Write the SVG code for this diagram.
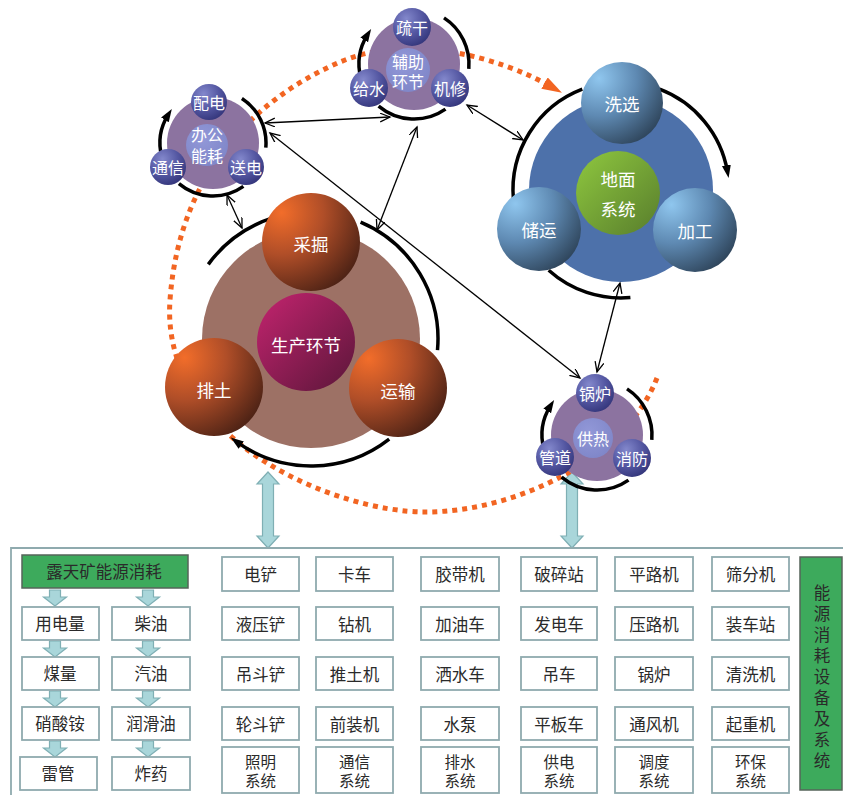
<svg xmlns="http://www.w3.org/2000/svg" width="843" height="795" viewBox="0 0 843 795">
  <style>
    .arc { fill: none; stroke: #000; stroke-width: 3.5; }
    .arc-head { marker-end: url(#arcHead); }
    .link { fill: none; stroke: #000; stroke-width: 1.3; marker-start: url(#openHead); marker-end: url(#openHead); }
    .ball-t { fill: #fff; font-family: "Noto Sans CJK SC", "Noto Sans", sans-serif; font-size: 16px; text-anchor: middle; dominant-baseline: central; }
    .big-t { font-size: 17.5px; }
    .box { fill: #fff; stroke: #8FAAAE; stroke-width: 1.8; }
    .box-t { fill: #2a2a2a; font-family: "Noto Sans CJK SC", "Noto Sans", sans-serif; font-size: 16.5px; text-anchor: middle; dominant-baseline: central; }
    .sys-t { font-size: 15.5px; }
    .green { fill: #3DAA5C; stroke: #56645A; stroke-width: 1.5; }
    .teal { fill: #A9D6DA; stroke: #7FAFB4; stroke-width: 1.2; }
  </style>
  <defs>
    <radialGradient id="gPurpleBall" cx="35%" cy="28%" r="78%">
      <stop offset="0" stop-color="#8388CC"/>
      <stop offset="0.55" stop-color="#5457A2"/>
      <stop offset="1" stop-color="#33357A"/>
    </radialGradient>
    <radialGradient id="gInner" cx="40%" cy="35%" r="70%">
      <stop offset="0" stop-color="#9298D8"/>
      <stop offset="1" stop-color="#7F86C8"/>
    </radialGradient>
    <radialGradient id="gBlueBall" cx="22%" cy="20%" r="92%">
      <stop offset="0" stop-color="#8FC6EE"/>
      <stop offset="0.5" stop-color="#5E89B2"/>
      <stop offset="1" stop-color="#2E445A"/>
    </radialGradient>
    <radialGradient id="gOrangeBall" cx="20%" cy="20%" r="95%">
      <stop offset="0" stop-color="#F26D2A"/>
      <stop offset="0.45" stop-color="#B04E28"/>
      <stop offset="1" stop-color="#482014"/>
    </radialGradient>
    <linearGradient id="gGreen" x1="0" y1="0" x2="1" y2="1">
      <stop offset="0" stop-color="#8FC83F"/>
      <stop offset="1" stop-color="#587D2C"/>
    </linearGradient>
    <linearGradient id="gMagenta" x1="0" y1="0" x2="1" y2="1">
      <stop offset="0" stop-color="#C4246F"/>
      <stop offset="1" stop-color="#5A1639"/>
    </linearGradient>
    <marker id="openHead" markerUnits="userSpaceOnUse" markerWidth="12" markerHeight="10" refX="10" refY="4.5" orient="auto-start-reverse">
      <path d="M0,0 L10,4.5 L0,9" fill="none" stroke="#000" stroke-width="1.3"/>
    </marker>
    <marker id="arcHead" markerUnits="userSpaceOnUse" markerWidth="14" markerHeight="10" refX="6" refY="4.5" orient="auto">
      <path d="M0,0 L13,4.5 L0,9 z" fill="#000"/>
    </marker>
    <marker id="orangeHead" markerUnits="userSpaceOnUse" markerWidth="22" markerHeight="14" refX="4" refY="6.5" orient="auto">
      <path d="M0,0 L20,6.5 L0,13 z" fill="#F26522"/>
    </marker>
  </defs>

  <rect width="843" height="795" fill="#fff"/>

  <!-- wide two-way arrows linking the circles with the table -->
  <g id="table-links">
    <polygon class="teal" points="268,472 279,484 273.5,484 273.5,536 279,536 268,548 257,536 262.5,536 262.5,484 257,484"/>
    <polygon class="teal" points="572,472 583,484 577.5,484 577.5,536 583,536 572,548 561,536 566.5,536 566.5,484 561,484"/>
  </g>

  <!-- dotted orange cycle around the clusters -->
  <path id="cycle" d="M657,378 C625,460 515,512 425,512 C335,512 160,440 170,300 C180,160 270,92 340,62 C410,32 500,58 548,85" fill="none" stroke="#F26522" stroke-width="5" stroke-dasharray="5 5" marker-end="url(#orangeHead)"/>

  <!-- office energy cluster -->
  <g id="office">
    <path class="arc arc-head" d="M161.8,156.7 A53,53 0 0 1 168.1,114.9"/>
    <path class="arc" d="M241.9,98.5 A53,53 0 0 1 265.8,147.6"/>
    <path class="arc" d="M243.4,186.4 A53,53 0 0 1 178.9,183.6"/>
    <circle cx="213" cy="143" r="46" fill="#8C73A0"/>
    <g id="office-center"><circle cx="207" cy="145" r="21" fill="url(#gInner)"/>
      <text class="ball-t" x="207" y="134">办公<tspan x="207" dy="21">能耗</tspan></text></g>
    <g id="office-peidian"><circle cx="209" cy="102" r="18" fill="url(#gPurpleBall)"/><text class="ball-t" x="209" y="102">配电</text></g>
    <g id="office-tongxin"><circle cx="168" cy="167" r="18" fill="url(#gPurpleBall)"/><text class="ball-t" x="168" y="167">通信</text></g>
    <g id="office-songdian"><circle cx="246" cy="167" r="18" fill="url(#gPurpleBall)"/><text class="ball-t" x="246" y="167">送电</text></g>
  </g>

  <!-- auxiliary cluster -->
  <g id="auxiliary">
    <path class="arc arc-head" d="M360.9,78.2 A55,55 0 0 1 367.4,34.9"/>
    <path class="arc" d="M444,17.9 A55,55 0 0 1 468.8,68.8"/>
    <path class="arc" d="M445.5,109.1 A55,55 0 0 1 378.6,106.1"/>
    <circle cx="414" cy="64" r="46" fill="#8C73A0"/>
    <g id="aux-center"><circle cx="408" cy="70" r="22" fill="url(#gInner)"/>
      <text class="ball-t" x="408" y="61">辅助<tspan x="408" dy="20">环节</tspan></text></g>
    <g id="aux-shugan"><circle cx="412" cy="27" r="19" fill="url(#gPurpleBall)"/><text class="ball-t" x="412" y="27">疏干</text></g>
    <g id="aux-geishui"><circle cx="369" cy="88" r="19" fill="url(#gPurpleBall)"/><text class="ball-t" x="369" y="88">给水</text></g>
    <g id="aux-jixiu"><circle cx="450" cy="88" r="19" fill="url(#gPurpleBall)"/><text class="ball-t" x="450" y="88">机修</text></g>
  </g>

  <!-- surface system cluster -->
  <g id="surface">
    <path class="arc" d="M582.3,89.2 A108,108 0 0 0 513.4,199.4"/>
    <path class="arc arc-head" d="M659.7,89.2 A108,108 0 0 1 727.4,171.2"/>
    <path class="arc" d="M548.7,270.3 A108,108 0 0 0 630.4,297.6"/>
    <circle cx="621" cy="190" r="92" fill="#4D71AA"/>
    <g id="surface-center"><circle cx="618" cy="193" r="42" fill="url(#gGreen)"/>
      <text class="ball-t big-t" x="618" y="178">地面<tspan x="618" dy="30">系统</tspan></text></g>
    <g id="surface-xixuan"><circle cx="622" cy="103" r="41" fill="url(#gBlueBall)"/><text class="ball-t big-t" x="622" y="103">洗选</text></g>
    <g id="surface-chuyun"><circle cx="539" cy="229" r="42" fill="url(#gBlueBall)"/><text class="ball-t big-t" x="539" y="229">储运</text></g>
    <g id="surface-jiagong"><circle cx="695" cy="230" r="42" fill="url(#gBlueBall)"/><text class="ball-t big-t" x="695" y="230">加工</text></g>
  </g>

  <!-- production cluster -->
  <g id="production">
    <path class="arc" d="M208.3,264.4 A127,127 0 0 1 271.8,218.2"/>
    <path class="arc" d="M360.6,222.1 A127,127 0 0 1 437.5,350.1"/>
    <path class="arc arc-head" d="M389.2,439.1 A127,127 0 0 1 236.4,441.7"/>
    <circle cx="311" cy="339" r="109" fill="#9D7165"/>
    <g id="prod-center"><circle cx="306" cy="342" r="49" fill="url(#gMagenta)"/><text class="ball-t big-t" x="306" y="344">生产环节</text></g>
    <g id="prod-caijue"><circle cx="311" cy="242" r="49" fill="url(#gOrangeBall)"/><text class="ball-t big-t" x="311" y="243">采掘</text></g>
    <g id="prod-paitu"><circle cx="214" cy="387" r="49" fill="url(#gOrangeBall)"/><text class="ball-t big-t" x="214" y="389">排土</text></g>
    <g id="prod-yunshu"><circle cx="398" cy="388" r="49" fill="url(#gOrangeBall)"/><text class="ball-t big-t" x="398" y="390">运输</text></g>
  </g>

  <!-- heating cluster -->
  <g id="heating">
    <path class="arc arc-head" d="M543.9,449.2 A55,55 0 0 1 550.4,405.9"/>
    <path class="arc" d="M627,388.9 A55,55 0 0 1 651.8,439.8"/>
    <path class="arc" d="M628.5,480.1 A55,55 0 0 1 561.6,477.1"/>
    <circle cx="597" cy="435" r="46" fill="#8C73A0"/>
    <g id="heat-center"><circle cx="593" cy="438" r="20" fill="url(#gInner)"/><text class="ball-t" x="593" y="438">供热</text></g>
    <g id="heat-guolu"><circle cx="595" cy="393" r="19" fill="url(#gPurpleBall)"/><text class="ball-t" x="595" y="393">锅炉</text></g>
    <g id="heat-guandao"><circle cx="555" cy="457" r="19" fill="url(#gPurpleBall)"/><text class="ball-t" x="555" y="457">管道</text></g>
    <g id="heat-xiaofang"><circle cx="632" cy="458" r="19" fill="url(#gPurpleBall)"/><text class="ball-t" x="632" y="458">消防</text></g>
  </g>

  <!-- thin two-way links between clusters -->
  <g id="connectors">
    <line class="link" x1="265" y1="123" x2="390" y2="117"/>
    <line class="link" x1="270" y1="133" x2="580" y2="378"/>
    <line class="link" x1="417" y1="127" x2="377" y2="230"/>
    <line class="link" x1="467" y1="105" x2="523" y2="140"/>
    <line class="link" x1="227" y1="195" x2="242" y2="228"/>
    <line class="link" x1="620" y1="283" x2="597" y2="372"/>
  </g>

  <!-- equipment table -->
  <g id="table">
    <path d="M843,548 H11 V795" fill="none" stroke="#8FAAAE" stroke-width="1.8"/>

    <g id="consumption-list">
      <rect class="green" x="22" y="555" width="166" height="33"/>
      <text class="box-t" x="104" y="571" font-size="17">露天矿能源消耗</text>
      <g class="teal">
        <polygon points="49.5,590 60.5,590 60.5,597 66.5,597 55,606 43.5,597 49.5,597"/>
        <polygon points="142.5,590 153.5,590 153.5,597 159.5,597 148,606 136.5,597 142.5,597"/>
        <polygon points="49.5,641 60.5,641 60.5,648 66.5,648 55,657 43.5,648 49.5,648"/>
        <polygon points="142.5,641 153.5,641 153.5,648 159.5,648 148,657 136.5,648 142.5,648"/>
        <polygon points="49.5,691 60.5,691 60.5,698 66.5,698 55,707 43.5,698 49.5,698"/>
        <polygon points="142.5,691 153.5,691 153.5,698 159.5,698 148,707 136.5,698 142.5,698"/>
        <polygon points="49.5,741 60.5,741 60.5,748 66.5,748 55,757 43.5,748 49.5,748"/>
        <polygon points="142.5,741 153.5,741 153.5,748 159.5,748 148,757 136.5,748 142.5,748"/>
      </g>
      <rect class="box" x="22" y="607" width="77" height="33"/><text class="box-t" x="60" y="623" font-size="17">用电量</text>
      <rect class="box" x="22" y="657" width="77" height="33"/><text class="box-t" x="60" y="673" font-size="17">煤量</text>
      <rect class="box" x="22" y="707" width="77" height="33"/><text class="box-t" x="60" y="723" font-size="17">硝酸铵</text>
      <rect class="box" x="20" y="757" width="77" height="33"/><text class="box-t" x="58" y="773" font-size="17">雷管</text>
      <rect class="box" x="112" y="607" width="78" height="33"/><text class="box-t" x="151" y="623" font-size="17">柴油</text>
      <rect class="box" x="112" y="657" width="78" height="33"/><text class="box-t" x="151" y="673" font-size="17">汽油</text>
      <rect class="box" x="112" y="707" width="78" height="33"/><text class="box-t" x="151" y="723" font-size="17">润滑油</text>
      <rect class="box" x="112" y="757" width="78" height="33"/><text class="box-t" x="151" y="773" font-size="17">炸药</text>
    </g>

    <g id="equipment-grid">
      <!-- column 1 -->
      <rect class="box" x="222" y="557" width="77" height="34"/><text class="box-t" x="260.5" y="574">电铲</text>
      <rect class="box" x="222" y="607" width="77" height="33"/><text class="box-t" x="260.5" y="623.5">液压铲</text>
      <rect class="box" x="222" y="657" width="77" height="33"/><text class="box-t" x="260.5" y="673.5">吊斗铲</text>
      <rect class="box" x="222" y="707" width="77" height="33"/><text class="box-t" x="260.5" y="723.5">轮斗铲</text>
      <rect class="box" x="222" y="747" width="77" height="46"/><text class="box-t sys-t" x="260.5" y="760.5">照明<tspan x="260.5" dy="19.5">系统</tspan></text>
      <!-- column 2 -->
      <rect class="box" x="316" y="557" width="77" height="34"/><text class="box-t" x="354.5" y="574">卡车</text>
      <rect class="box" x="316" y="607" width="77" height="33"/><text class="box-t" x="354.5" y="623.5">钻机</text>
      <rect class="box" x="316" y="657" width="77" height="33"/><text class="box-t" x="354.5" y="673.5">推土机</text>
      <rect class="box" x="316" y="707" width="77" height="33"/><text class="box-t" x="354.5" y="723.5">前装机</text>
      <rect class="box" x="316" y="747" width="77" height="46"/><text class="box-t sys-t" x="354.5" y="760.5">通信<tspan x="354.5" dy="19.5">系统</tspan></text>
      <!-- column 3 -->
      <rect class="box" x="421" y="557" width="78" height="34"/><text class="box-t" x="460" y="574">胶带机</text>
      <rect class="box" x="421" y="607" width="78" height="33"/><text class="box-t" x="460" y="623.5">加油车</text>
      <rect class="box" x="421" y="657" width="78" height="33"/><text class="box-t" x="460" y="673.5">洒水车</text>
      <rect class="box" x="421" y="707" width="78" height="33"/><text class="box-t" x="460" y="723.5">水泵</text>
      <rect class="box" x="421" y="747" width="78" height="46"/><text class="box-t sys-t" x="460" y="760.5">排水<tspan x="460" dy="19.5">系统</tspan></text>
      <!-- column 4 -->
      <rect class="box" x="521" y="557" width="76" height="34"/><text class="box-t" x="559" y="574">破碎站</text>
      <rect class="box" x="521" y="607" width="76" height="33"/><text class="box-t" x="559" y="623.5">发电车</text>
      <rect class="box" x="521" y="657" width="76" height="33"/><text class="box-t" x="559" y="673.5">吊车</text>
      <rect class="box" x="521" y="707" width="76" height="33"/><text class="box-t" x="559" y="723.5">平板车</text>
      <rect class="box" x="521" y="747" width="76" height="46"/><text class="box-t sys-t" x="559" y="760.5">供电<tspan x="559" dy="19.5">系统</tspan></text>
      <!-- column 5 -->
      <rect class="box" x="615" y="557" width="78" height="34"/><text class="box-t" x="654" y="574">平路机</text>
      <rect class="box" x="615" y="607" width="78" height="33"/><text class="box-t" x="654" y="623.5">压路机</text>
      <rect class="box" x="615" y="657" width="78" height="33"/><text class="box-t" x="654" y="673.5">锅炉</text>
      <rect class="box" x="615" y="707" width="78" height="33"/><text class="box-t" x="654" y="723.5">通风机</text>
      <rect class="box" x="615" y="747" width="78" height="46"/><text class="box-t sys-t" x="654" y="760.5">调度<tspan x="654" dy="19.5">系统</tspan></text>
      <!-- column 6 -->
      <rect class="box" x="712" y="557" width="77" height="34"/><text class="box-t" x="750.5" y="574">筛分机</text>
      <rect class="box" x="712" y="607" width="77" height="33"/><text class="box-t" x="750.5" y="623.5">装车站</text>
      <rect class="box" x="712" y="657" width="77" height="33"/><text class="box-t" x="750.5" y="673.5">清洗机</text>
      <rect class="box" x="712" y="707" width="77" height="33"/><text class="box-t" x="750.5" y="723.5">起重机</text>
      <rect class="box" x="712" y="747" width="77" height="46"/><text class="box-t sys-t" x="750.5" y="760.5">环保<tspan x="750.5" dy="19.5">系统</tspan></text>
    </g>

    <g id="equipment-title">
      <rect class="green" x="800" y="557" width="42" height="233"/>
      <text class="box-t" font-size="18" x="822" y="592">能<tspan x="822" dy="21">源</tspan><tspan x="822" dy="21">消</tspan><tspan x="822" dy="21">耗</tspan><tspan x="822" dy="21">设</tspan><tspan x="822" dy="21">备</tspan><tspan x="822" dy="21">及</tspan><tspan x="822" dy="21">系</tspan><tspan x="822" dy="21">统</tspan></text>
    </g>
  </g>
</svg>
